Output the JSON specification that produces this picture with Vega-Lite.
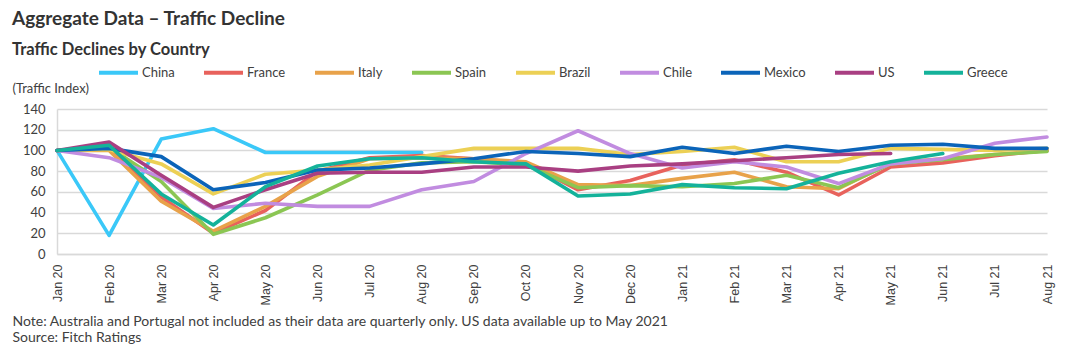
{
  "$schema": "https://vega.github.io/schema/vega-lite/v6.json",
  "width": 990,
  "height": 145,
  "autosize": {"type": "none"},
  "padding": {"left": 57, "top": 109, "right": 23, "bottom": 103},
  "background": "white",
  "title": {
    "text": "Aggregate Data – Traffic Decline",
    "subtitle": "Traffic Declines by Country",
    "anchor": "start",
    "frame": "group",
    "dx": -45,
    "offset": -7,
    "font": "Lato",
    "fontSize": 19,
    "fontWeight": "bold",
    "color": "#333333",
    "subtitleFont": "Lato",
    "subtitleFontSize": 16.5,
    "subtitleFontWeight": "bold",
    "subtitleColor": "#333333",
    "subtitlePadding": 13
  },
  "data": {
    "values": [
      {"c": "China", "m": "Jan 20", "v": 100}, {"c": "China", "m": "Feb 20", "v": 18}, {"c": "China", "m": "Mar 20", "v": 111}, {"c": "China", "m": "Apr 20", "v": 121}, {"c": "China", "m": "May 20", "v": 98}, {"c": "China", "m": "Jun 20", "v": 98}, {"c": "China", "m": "Jul 20", "v": 98}, {"c": "China", "m": "Aug 20", "v": 98},

      {"c": "France", "m": "Jan 20", "v": 100}, {"c": "France", "m": "Feb 20", "v": 104}, {"c": "France", "m": "Mar 20", "v": 55}, {"c": "France", "m": "Apr 20", "v": 20}, {"c": "France", "m": "May 20", "v": 42}, {"c": "France", "m": "Jun 20", "v": 80}, {"c": "France", "m": "Jul 20", "v": 93}, {"c": "France", "m": "Aug 20", "v": 95}, {"c": "France", "m": "Sep 20", "v": 92}, {"c": "France", "m": "Oct 20", "v": 88}, {"c": "France", "m": "Nov 20", "v": 62}, {"c": "France", "m": "Dec 20", "v": 71}, {"c": "France", "m": "Jan 21", "v": 86}, {"c": "France", "m": "Feb 21", "v": 91}, {"c": "France", "m": "Mar 21", "v": 79}, {"c": "France", "m": "Apr 21", "v": 57}, {"c": "France", "m": "May 21", "v": 84}, {"c": "France", "m": "Jun 21", "v": 88}, {"c": "France", "m": "Jul 21", "v": 95}, {"c": "France", "m": "Aug 21", "v": 100},

      {"c": "Italy", "m": "Jan 20", "v": 100}, {"c": "Italy", "m": "Feb 20", "v": 100}, {"c": "Italy", "m": "Mar 20", "v": 51}, {"c": "Italy", "m": "Apr 20", "v": 22}, {"c": "Italy", "m": "May 20", "v": 46}, {"c": "Italy", "m": "Jun 20", "v": 75}, {"c": "Italy", "m": "Jul 20", "v": 92}, {"c": "Italy", "m": "Aug 20", "v": 93}, {"c": "Italy", "m": "Sep 20", "v": 92}, {"c": "Italy", "m": "Oct 20", "v": 89}, {"c": "Italy", "m": "Nov 20", "v": 67}, {"c": "Italy", "m": "Dec 20", "v": 66}, {"c": "Italy", "m": "Jan 21", "v": 73}, {"c": "Italy", "m": "Feb 21", "v": 79}, {"c": "Italy", "m": "Mar 21", "v": 65}, {"c": "Italy", "m": "Apr 21", "v": 63}, {"c": "Italy", "m": "May 21", "v": 88}, {"c": "Italy", "m": "Jun 21", "v": 92}, {"c": "Italy", "m": "Jul 21", "v": 96}, {"c": "Italy", "m": "Aug 21", "v": 100},

      {"c": "Spain", "m": "Jan 20", "v": 100}, {"c": "Spain", "m": "Feb 20", "v": 103}, {"c": "Spain", "m": "Mar 20", "v": 70}, {"c": "Spain", "m": "Apr 20", "v": 19}, {"c": "Spain", "m": "May 20", "v": 35}, {"c": "Spain", "m": "Jun 20", "v": 57}, {"c": "Spain", "m": "Jul 20", "v": 81}, {"c": "Spain", "m": "Aug 20", "v": 88}, {"c": "Spain", "m": "Sep 20", "v": 89}, {"c": "Spain", "m": "Oct 20", "v": 86}, {"c": "Spain", "m": "Nov 20", "v": 64}, {"c": "Spain", "m": "Dec 20", "v": 66}, {"c": "Spain", "m": "Jan 21", "v": 65}, {"c": "Spain", "m": "Feb 21", "v": 68}, {"c": "Spain", "m": "Mar 21", "v": 76}, {"c": "Spain", "m": "Apr 21", "v": 64}, {"c": "Spain", "m": "May 21", "v": 87}, {"c": "Spain", "m": "Jun 21", "v": 91}, {"c": "Spain", "m": "Jul 21", "v": 96}, {"c": "Spain", "m": "Aug 21", "v": 99},

      {"c": "Brazil", "m": "Jan 20", "v": 100}, {"c": "Brazil", "m": "Feb 20", "v": 101}, {"c": "Brazil", "m": "Mar 20", "v": 87}, {"c": "Brazil", "m": "Apr 20", "v": 58}, {"c": "Brazil", "m": "May 20", "v": 77}, {"c": "Brazil", "m": "Jun 20", "v": 81}, {"c": "Brazil", "m": "Jul 20", "v": 86}, {"c": "Brazil", "m": "Aug 20", "v": 94}, {"c": "Brazil", "m": "Sep 20", "v": 102}, {"c": "Brazil", "m": "Oct 20", "v": 102}, {"c": "Brazil", "m": "Nov 20", "v": 102}, {"c": "Brazil", "m": "Dec 20", "v": 96}, {"c": "Brazil", "m": "Jan 21", "v": 99}, {"c": "Brazil", "m": "Feb 21", "v": 103}, {"c": "Brazil", "m": "Mar 21", "v": 89}, {"c": "Brazil", "m": "Apr 21", "v": 89}, {"c": "Brazil", "m": "May 21", "v": 102}, {"c": "Brazil", "m": "Jun 21", "v": 101}, {"c": "Brazil", "m": "Jul 21", "v": 100}, {"c": "Brazil", "m": "Aug 21", "v": 102},

      {"c": "Chile", "m": "Jan 20", "v": 100}, {"c": "Chile", "m": "Feb 20", "v": 93}, {"c": "Chile", "m": "Mar 20", "v": 74}, {"c": "Chile", "m": "Apr 20", "v": 44}, {"c": "Chile", "m": "May 20", "v": 49}, {"c": "Chile", "m": "Jun 20", "v": 46}, {"c": "Chile", "m": "Jul 20", "v": 46}, {"c": "Chile", "m": "Aug 20", "v": 62}, {"c": "Chile", "m": "Sep 20", "v": 70}, {"c": "Chile", "m": "Oct 20", "v": 97}, {"c": "Chile", "m": "Nov 20", "v": 119}, {"c": "Chile", "m": "Dec 20", "v": 97}, {"c": "Chile", "m": "Jan 21", "v": 83}, {"c": "Chile", "m": "Feb 21", "v": 89}, {"c": "Chile", "m": "Mar 21", "v": 84}, {"c": "Chile", "m": "Apr 21", "v": 68}, {"c": "Chile", "m": "May 21", "v": 87}, {"c": "Chile", "m": "Jun 21", "v": 92}, {"c": "Chile", "m": "Jul 21", "v": 107}, {"c": "Chile", "m": "Aug 21", "v": 113},

      {"c": "Mexico", "m": "Jan 20", "v": 100}, {"c": "Mexico", "m": "Feb 20", "v": 102}, {"c": "Mexico", "m": "Mar 20", "v": 94}, {"c": "Mexico", "m": "Apr 20", "v": 62}, {"c": "Mexico", "m": "May 20", "v": 69}, {"c": "Mexico", "m": "Jun 20", "v": 81}, {"c": "Mexico", "m": "Jul 20", "v": 83}, {"c": "Mexico", "m": "Aug 20", "v": 87}, {"c": "Mexico", "m": "Sep 20", "v": 92}, {"c": "Mexico", "m": "Oct 20", "v": 99}, {"c": "Mexico", "m": "Nov 20", "v": 97}, {"c": "Mexico", "m": "Dec 20", "v": 94}, {"c": "Mexico", "m": "Jan 21", "v": 103}, {"c": "Mexico", "m": "Feb 21", "v": 97}, {"c": "Mexico", "m": "Mar 21", "v": 104}, {"c": "Mexico", "m": "Apr 21", "v": 99}, {"c": "Mexico", "m": "May 21", "v": 105}, {"c": "Mexico", "m": "Jun 21", "v": 106}, {"c": "Mexico", "m": "Jul 21", "v": 102}, {"c": "Mexico", "m": "Aug 21", "v": 102},

      {"c": "US", "m": "Jan 20", "v": 100}, {"c": "US", "m": "Feb 20", "v": 108}, {"c": "US", "m": "Mar 20", "v": 76}, {"c": "US", "m": "Apr 20", "v": 45}, {"c": "US", "m": "May 20", "v": 62}, {"c": "US", "m": "Jun 20", "v": 78}, {"c": "US", "m": "Jul 20", "v": 79}, {"c": "US", "m": "Aug 20", "v": 79}, {"c": "US", "m": "Sep 20", "v": 84}, {"c": "US", "m": "Oct 20", "v": 84}, {"c": "US", "m": "Nov 20", "v": 80}, {"c": "US", "m": "Dec 20", "v": 85}, {"c": "US", "m": "Jan 21", "v": 87}, {"c": "US", "m": "Feb 21", "v": 90}, {"c": "US", "m": "Mar 21", "v": 93}, {"c": "US", "m": "Apr 21", "v": 96}, {"c": "US", "m": "May 21", "v": 97},

      {"c": "Greece", "m": "Jan 20", "v": 100}, {"c": "Greece", "m": "Feb 20", "v": 105}, {"c": "Greece", "m": "Mar 20", "v": 58}, {"c": "Greece", "m": "Apr 20", "v": 28}, {"c": "Greece", "m": "May 20", "v": 65}, {"c": "Greece", "m": "Jun 20", "v": 85}, {"c": "Greece", "m": "Jul 20", "v": 92}, {"c": "Greece", "m": "Aug 20", "v": 93}, {"c": "Greece", "m": "Sep 20", "v": 89}, {"c": "Greece", "m": "Oct 20", "v": 87}, {"c": "Greece", "m": "Nov 20", "v": 56}, {"c": "Greece", "m": "Dec 20", "v": 58}, {"c": "Greece", "m": "Jan 21", "v": 67}, {"c": "Greece", "m": "Feb 21", "v": 64}, {"c": "Greece", "m": "Mar 21", "v": 63}, {"c": "Greece", "m": "Apr 21", "v": 78}, {"c": "Greece", "m": "May 21", "v": 89}, {"c": "Greece", "m": "Jun 21", "v": 97}
    ]
  },
  "mark": {"type": "line", "strokeWidth": 3.6, "strokeCap": "round", "strokeJoin": "round"},
  "encoding": {
    "x": {
      "field": "m",
      "type": "ordinal",
      "sort": ["Jan 20","Feb 20","Mar 20","Apr 20","May 20","Jun 20","Jul 20","Aug 20","Sep 20","Oct 20","Nov 20","Dec 20","Jan 21","Feb 21","Mar 21","Apr 21","May 21","Jun 21","Jul 21","Aug 21"],
      "scale": {"type": "point", "padding": 0},
      "axis": {
        "title": ["Note: Australia  and Portugal not included as their data are quarterly only. US data available up to May 2021", "Source: Fitch Ratings"],
        "titleX": -45,
        "titleY": 60,
        "titleAlign": "left",
        "titleAnchor": "start",
        "titleBaseline": "top",
        "titleAngle": 0,
        "titleFont": "Lato",
        "titleFontSize": 14,
        "titleFontWeight": "normal",
        "titleColor": "#404040",
        "titleLineHeight": 16,
        "labelAngle": -90,
        "labelFont": "Liberation Sans",
        "labelFontSize": 12.5,
        "labelColor": "#404040",
        "labelPadding": 10,
        "ticks": false,
        "domain": true,
        "domainColor": "#d9d9d9",
        "domainWidth": 1.5,
        "grid": false
      }
    },
    "y": {
      "field": "v",
      "type": "quantitative",
      "scale": {"domain": [0, 140], "nice": false},
      "axis": {
        "values": [0, 20, 40, 60, 80, 100, 120, 140],
        "title": "(Traffic Index)",
        "titleAngle": 0,
        "titleX": -45,
        "titleY": -21,
        "titleAlign": "left",
        "titleBaseline": "middle",
        "titleFont": "Lato",
        "titleFontSize": 13,
        "titleFontWeight": "normal",
        "titleColor": "#404040",
        "labelFont": "Lato",
        "labelFontSize": 13,
        "labelColor": "#404040",
        "labelPadding": 12,
        "ticks": false,
        "domain": true,
        "domainColor": "#d9d9d9",
        "domainWidth": 1.5,
        "grid": true,
        "gridColor": "#d9d9d9",
        "gridWidth": 1.5
      }
    },
    "color": {
      "field": "c",
      "type": "nominal",
      "sort": ["China","France","Italy","Spain","Brazil","Chile","Mexico","US","Greece"],
      "scale": {
        "domain": ["China","France","Italy","Spain","Brazil","Chile","Mexico","US","Greece"],
        "range": ["#3ac8f8","#e8625c","#e8a24a","#8bc653","#ecd055","#c18ce0","#0b64b9","#a93f82","#14b29a"]
      },
      "legend": {
        "orient": "none",
        "legendX": 40,
        "legendY": -58,
        "direction": "horizontal",
        "title": null,
        "symbolType": "stroke",
        "symbolSize": 1521,
        "symbolStrokeWidth": 4,
        "labelFont": "Lato",
        "labelFontSize": 13,
        "labelColor": "#404040",
        "labelOffset": 2,
        "columnPadding": 21,
        "labelLimit": 200
      }
    }
  },
  "config": {
    "view": {"stroke": null}
  }
}
